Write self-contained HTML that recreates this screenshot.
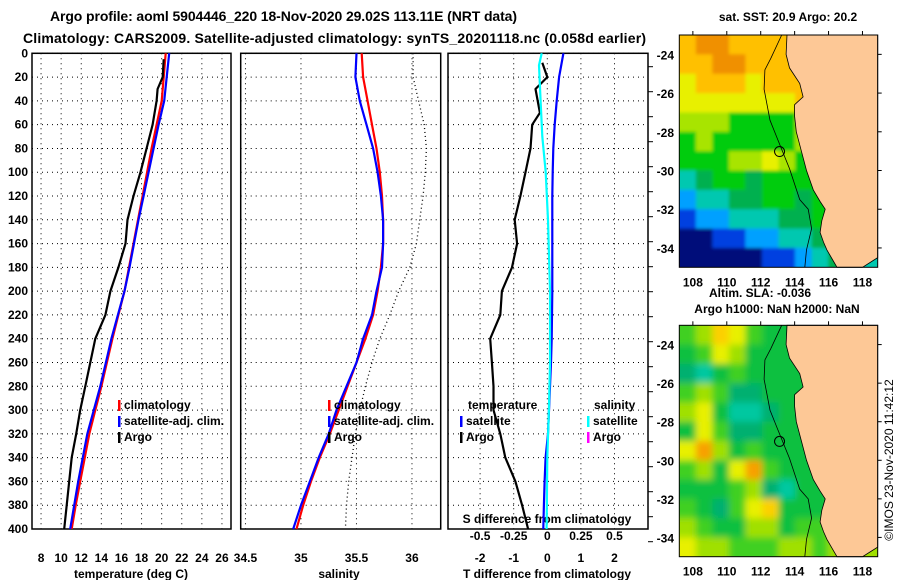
<!DOCTYPE html>
<html><head><meta charset="utf-8"><style>
html,body{margin:0;padding:0;background:#fff;}
svg{display:block;font-family:"Liberation Sans",sans-serif;}
.b{font-weight:bold;font-size:12px;}
</style></head><body>
<svg id="c" width="900" height="580" xmlns="http://www.w3.org/2000/svg">
<defs>
<filter id="blurA" x="-5%" y="-5%" width="110%" height="110%"><feGaussianBlur stdDeviation="1.5"/></filter>
<filter id="blurB" x="-5%" y="-5%" width="110%" height="110%"><feGaussianBlur stdDeviation="3.5"/></filter>
<clipPath id="clipA"><rect x="679.3" y="35" width="198.4" height="232.3"/></clipPath>
<clipPath id="clipB"><rect x="679.3" y="325.3" width="198.4" height="231.4"/></clipPath>
</defs>
<text x="50" y="21" textLength="467" class="b" style="font-size:14px">Argo profile: aoml 5904446_220 18-Nov-2020 29.02S 113.11E (NRT data)</text>
<text x="23" y="43" textLength="623" class="b" style="font-size:14px">Climatology: CARS2009. Satellite-adjusted climatology: synTS_20201118.nc (0.058d earlier)</text>
<g id="g"></g>
</svg>
<script>
// ---- profile data ----
const depths=[0,20,40,60,80,100,120,140,160,180,200,220,240,260,280,300,320,340,360,380,400];
const tempClim=[20.4,20.2,20.0,19.5,19.0,18.55,18.1,17.65,17.2,16.75,16.3,15.7,15.1,14.55,14.0,13.4,12.8,12.35,11.9,11.45,11.05];
const tempSat=[20.75,20.5,20.25,19.7,19.2,18.7,18.2,17.7,17.25,16.8,16.3,15.65,15.0,14.45,13.9,13.25,12.6,12.15,11.7,11.3,10.9];
const argoDepths=[5,20,30,40,60,80,100,120,140,160,180,200,220,240,260,280,300,320,340,360,380,400];
const tempArgo=[20.2,20.1,19.6,19.5,19.1,18.5,17.9,17.2,16.6,16.4,15.7,14.9,14.4,13.4,12.9,12.4,11.9,11.5,11.05,10.8,10.55,10.3];
const salClim=[35.547,35.56,35.60,35.64,35.68,35.71,35.73,35.74,35.74,35.72,35.69,35.65,35.58,35.50,35.42,35.34,35.26,35.17,35.09,35.02,34.96];
const salSat=[35.50,35.49,35.53,35.59,35.65,35.69,35.72,35.74,35.74,35.73,35.68,35.64,35.56,35.50,35.41,35.32,35.25,35.16,35.08,35.00,34.93];
const salArgo=[36.01,36.01,36.06,36.11,36.13,36.12,36.10,36.07,36.04,35.98,35.88,35.80,35.71,35.64,35.58,35.53,35.49,35.46,35.43,35.41,35.40];
const dTDepths=[8,20,30,50,60,80,100,120,140,160,180,200,220,240,260,280,300,320,340,360,380,400];
const dTArgo=[-0.15,0,-0.35,-0.22,-0.45,-0.5,-0.65,-0.8,-0.97,-0.9,-1.05,-1.35,-1.4,-1.7,-1.65,-1.6,-1.6,-1.4,-1.25,-0.95,-0.75,-0.57];
const dTSat=[0.48,0.35,0.28,0.22,0.18,0.16,0.15,0.15,0.15,0.15,0.15,0.14,0.13,0.11,0.08,0.05,0.02,-0.05,-0.08,-0.1,-0.12];
const dSDepths=[0,10,40,70,100,140,200,260,300,340,400];
const dSSat=[-0.042,-0.062,-0.05,-0.037,-0.012,0.005,0.02,0.02,0.012,0,-0.005];
const depthTicks=[0,20,40,60,80,100,120,140,160,180,200,220,240,260,280,300,320,340,360,380,400];
const tempTicks=[8,10,12,14,16,18,20,22,24,26];
const salTicks=[34.5,35,35.5,36];
const salTickLabels=["34.5","35","35.5","36"];
const dTTicks=[-2,-1,0,1,2];
const dSTicks=[-0.5,-0.25,0,0.25,0.5];
const dSTickLabels=["-0.5","-0.25","0","0.25","0.5"];
// ---- map data ----
const lonTicks=[108,110,112,114,116,118];
const latTicks=[-24,-26,-28,-30,-32,-34];
const sstGrid=[
[8,9,9,8,8,8,8,9,9,8,8,8],
[8,8,9,9,8,8,8,8,8,8,8,8],
[7,8,8,8,7,8,8,8,8,8,8,8],
[7,7,7,7,7,7,7,8,8,8,8,8],
[6,6,6,5,5,5,5,6,7,8,8,8],
[5,6,5,5,5,5,5,6,7,8,8,8],
[5,5,5,6,6,7,6,5,6,7,8,8],
[3,4,5,5,4,5,5,5,5,6,7,7],
[2,3,3,4,4,5,5,4,5,5,6,6],
[1,2,2,3,3,3,4,4,5,5,5,5],
[0,0,1,1,2,2,3,3,4,5,5,5],
[0,0,0,0,0,1,1,2,3,4,5,3]];
const slaGrid=[
[3,4,6,5,3,2,2,2,4,4,4,4],
[2,3,5,4,2,2,2,2,3,4,4,4],
[1,0,2,3,2,2,2,2,2,4,4,4],
[3,4,3,1,1,2,2,2,2,4,4,4],
[4,5,2,0,0,1,2,2,3,4,4,4],
[2,5,3,1,1,2,2,2,2,3,4,4],
[5,7,4,2,3,2,2,2,2,3,4,4],
[3,4,2,5,7,3,2,2,2,3,4,4],
[2,2,2,3,4,1,0,2,2,3,4,4],
[3,2,1,3,5,6,2,2,2,3,4,4],
[4,3,2,2,4,4,2,3,3,4,4,4],
[5,4,4,3,3,3,4,4,3,4,4,4]];
const sstColors=["#00107a","#0040e0","#00a0ff","#00c8b0","#00b050","#00cc10","#a8e400","#e8f000","#ffc000","#f09000"];
const slaColors=["#00c8a0","#00b070","#10c040","#40d020","#a0e000","#e8f000","#fcd000","#f8a000"];

const NS="http://www.w3.org/2000/svg";
const G=document.getElementById('g');
function mk(t,a,p){const e=document.createElementNS(NS,t);for(const k in a)e.setAttribute(k,a[k]);(p||G).appendChild(e);return e;}
const Y0=53.3,Y1=529;
const yD=d=>Y0+(d/400)*(Y1-Y0);
const xT=t=>31+(t-7)*10.05;
const xS=s=>240.7+(s-34.457)*111;
const xdT=v=>547.3+v*33.6;
const xdS=v=>547.3+v*134.4;

function panel(x0,x1,name){
  const r=mk('rect',{x:x0,y:Y0,width:x1-x0,height:Y1-Y0,fill:'none',stroke:'#000','stroke-width':1.5});
  
  
  depthTicks.forEach(d=>{const l=mk('line',{x1:x0,x2:x1,y1:yD(d),y2:yD(d),stroke:'#000','stroke-dasharray':'1 4','stroke-width':1});
    
    });
}
function vgrid(xs,f){xs.forEach(v=>{const l=mk('line',{x1:f(v),x2:f(v),y1:Y0,y2:Y1,stroke:'#000','stroke-dasharray':'1 4'});
  
  });}
function line(ds,vs,f,col,w,name,dash){
  const pts=ds.map((d,i)=>f(vs[i]).toFixed(1)+','+yD(d).toFixed(1)).join(' ');
  const a={points:pts,fill:'none',stroke:col,'stroke-width':w,'stroke-linejoin':'round'};
  if(dash)a['stroke-dasharray']=dash;
  const p=mk('polyline',a);
  
  
}
function txt(x,y,s,anchor,name,size,bold){
  const t=mk('text',{x:x,y:y,'text-anchor':anchor||'start','font-size':size||12,'font-weight':bold===false?'normal':'bold'});
  t.textContent=s;
  
  
  return t;
}
// Panel 1
vgrid(tempTicks,xT);
panel(32,231,'temperature-panel');
depthTicks.forEach(d=>txt(28,yD(d)+4,String(d),'end','depth-tick-label'));
tempTicks.forEach(t=>txt(xT(t),562,String(t),'middle','temp-tick-label'));
txt(131,578,'temperature (deg C)','middle','temp-axis-title');
line(depths,tempClim,xT,'#ff0000',2.2,'temp-climatology-line');
line(depths,tempSat,xT,'#0000ff',2.2,'temp-satellite-line');
line(argoDepths,tempArgo,xT,'#000',2.2,'temp-argo-line');
// Panel 2
vgrid(salTicks,xS);
panel(240.7,440.7,'salinity-panel');
salTicks.forEach((s,i)=>txt(xS(s),562,salTickLabels[i],'middle','sal-tick-label'));
txt(339,578,'salinity','middle','sal-axis-title');
line(depths,salClim,xS,'#ff0000',2.2,'sal-climatology-line');
line(depths,salSat,xS,'#0000ff',2.2,'sal-satellite-line');
line(depths,salArgo,xS,'#000',1.3,'sal-argo-line','1 3');
// Panel 3
vgrid(dTTicks,xdT);
panel(448,648,'difference-panel');
for(let y=66.7;y<545;y+=25){const l=mk('line',{x1:648,x2:653,y1:y,y2:y,stroke:'#000'});
  
  }
dTTicks.forEach(t=>txt(xdT(t),562,String(t),'middle','dT-tick-label'));
dSTicks.forEach((s,i)=>txt(xdS(s),540,dSTickLabels[i],'middle','dS-tick-label'));
txt(547,523,'S difference from climatology','middle','dS-axis-title');
txt(547,578,'T difference from climatology','middle','dT-axis-title');
line(dTDepths,dTArgo,xdT,'#000',2.2,'dT-argo-line');
line(depths,dTSat,xdT,'#0000ff',2.2,'dT-satellite-line');
line(dSDepths,dSSat,xdS,'#00ffff',2.2,'dS-satellite-line');
// legends
function leg(x,y,col,label,name){
  const r=mk('rect',{x:x,y:y-9,width:2.5,height:11,fill:col});
  
  
  txt(x+6,y,label,'start',name+'-label');
}
leg(118,409,'#ff0000','climatology','legend-t-clim');
leg(118,425,'#0000ff','satellite-adj. clim.','legend-t-sat');
leg(118,441,'#000','Argo','legend-t-argo');
leg(328,409,'#ff0000','climatology','legend-s-clim');
leg(328,425,'#0000ff','satellite-adj. clim.','legend-s-sat');
leg(328,441,'#000','Argo','legend-s-argo');
txt(468,409,'temperature','start','legend-temperature-heading');
txt(594,409,'salinity','start','legend-salinity-heading');
leg(460,425,'#0000ff','satellite','legend-dT-sat');
leg(460,441,'#000','Argo','legend-dT-argo');
leg(587,425,'#00ffff','satellite','legend-dS-sat');
leg(587,441,'#ff00ff','Argo','legend-dS-argo');

// Maps
const MX0=679.3,MX1=877.7;
const lonX=l=>MX0+(l-107.2)*16.96;
function drawMap(top,bottom,grid,colors,name,filt,clip){
  const latY=la=>top+(-23-la)*(bottom-top)/12;
  const g=mk('g',{});
  
  
  const cg=mk('g',{'clip-path':'url(#'+clip+')'},g);
  const cells=mk('g',{filter:'url(#'+filt+')'},cg);
  const cw=(MX1-MX0)/12,ch=(bottom-top)/12;
  grid.forEach((row,r)=>row.forEach((v,c)=>{
    const x=MX0+c*cw, y=latY(-23-r);
    const ex0=c===0?8:0, ey0=r===0?8:0, ex1=c===11?8:0, ey1=r===11?8:0;
    const cell=mk('rect',{x:x-ex0,y:y-ey0,width:cw+0.6+ex0+ex1,height:ch+0.6+ey0+ey1,fill:colors[v]},cells);
    
    
  }));
  const s=(bottom-top)/12;
  const P=(lo,la)=>lonX(lo).toFixed(1)+','+(top+(-23-la)*s).toFixed(1);
  const coast=[[113.55,-23],[113.5,-24],[113.7,-24.7],[114.3,-25.5],[114.5,-26.2],[114.0,-26.6],[114.0,-27.2],[114.1,-28],[114.4,-29],[114.7,-30],[115.1,-31],[115.5,-31.6],[115.8,-32],[115.6,-32.6],[115.5,-33.2],[115.7,-33.7],[115.9,-34.1],[116.3,-34.7],[116.5,-35],[118.0,-35],[118.9,-34.5],[118.9,-23]];
  const land=mk('polygon',{points:coast.map(p=>P(p[0],p[1])).join(' '),fill:'#fdc896',stroke:'#000','stroke-width':0.8},g);
  
  
  const iso=[[113.24,-23],[112.6,-24.2],[112.25,-24.8],[112.2,-25.8],[112.55,-27.4],[113.0,-28.4],[113.7,-29.9],[114.3,-31.5],[114.8,-32],[115.0,-33],[114.7,-34.1],[114.6,-35]];
  const il=mk('polyline',{points:iso.map(p=>P(p[0],p[1])).join(' '),fill:'none',stroke:'#000','stroke-width':0.8},g);
  
  
  const ci=mk('circle',{cx:lonX(113.11),cy:latY(-29.02),r:5,fill:'none',stroke:'#000','stroke-width':1},g);
  
  
  const fr=mk('rect',{x:MX0,y:top,width:MX1-MX0,height:bottom-top,fill:'none',stroke:'#000','stroke-width':1},g);
  
  
  latTicks.forEach(la=>{txt(674,latY(la)+5,String(la),'end','map-lat-label',12);
    mk('line',{x1:MX1,x2:MX1+4,y1:latY(la),y2:latY(la),stroke:'#000'});});
  lonTicks.forEach(lo=>{txt(lonX(lo),bottom+19,String(lo),'middle','map-lon-label',12);
    mk('line',{x1:lonX(lo),x2:lonX(lo),y1:top-4,y2:top,stroke:'#000'});});
}
drawMap(35,267.3,sstGrid,sstColors,'sst-map','blurA','clipA');
drawMap(325.3,556.7,slaGrid,slaColors,'sla-map','blurB','clipB');
txt(788,21,'sat. SST: 20.9 Argo: 20.2','middle','sst-map-title');
txt(760,297,'Altim. SLA: -0.036','middle','sla-map-title');
txt(777,313,'Argo h1000: NaN h2000: NaN','middle','argo-height-title');
const im=txt(0,0,'©IMOS 23-Nov-2020 11:42:12','middle','imos-credit',12,false);
im.setAttribute('transform','translate(893,460) rotate(-90)');
</script>
</body></html>
